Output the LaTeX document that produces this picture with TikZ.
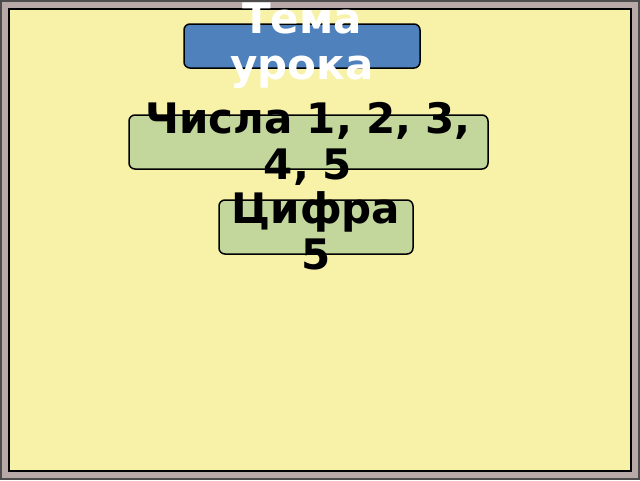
\documentclass[tikz,border=0pt]{standalone}
\usepackage{fontspec}
\setmainfont{DejaVu Sans}
\begin{document}
\begin{tikzpicture}[x=1pt,y=-1pt,
 box/.style={draw=black,line width=1.5pt,rounded corners=6pt},
 lbl/.style={font=\bfseries\fontsize{42}{46}\selectfont,align=center,text width=400pt}]
\useasboundingbox (0,0) rectangle (640,480);
\fill[black!70] (0,0) rectangle (640,480);
\fill[fill={rgb,255:red,184;green,168;blue,168}] (2,2) rectangle (638,478);
\fill[black] (8,8) rectangle (632,472);
\fill[fill={rgb,255:red,247;green,242;blue,168}] (10,10) rectangle (630,470);
\draw[box,fill={rgb,255:red,79;green,129;blue,189}] (184,24) rectangle (420,68);
\node[lbl,text=white] (t) at (302,46) {Тема\\урока};
\draw[box,fill={rgb,255:red,195;green,214;blue,155}] (129,115) rectangle (488,169);
\node[lbl] (a) at (308,144) {Числа 1, 2, 3,\\4, 5};
\draw[box,fill={rgb,255:red,195;green,214;blue,155}] (219,200) rectangle (413,254);
\node[lbl] (b) at (316,231) {Цифра\\5};
\end{tikzpicture}
\end{document}
